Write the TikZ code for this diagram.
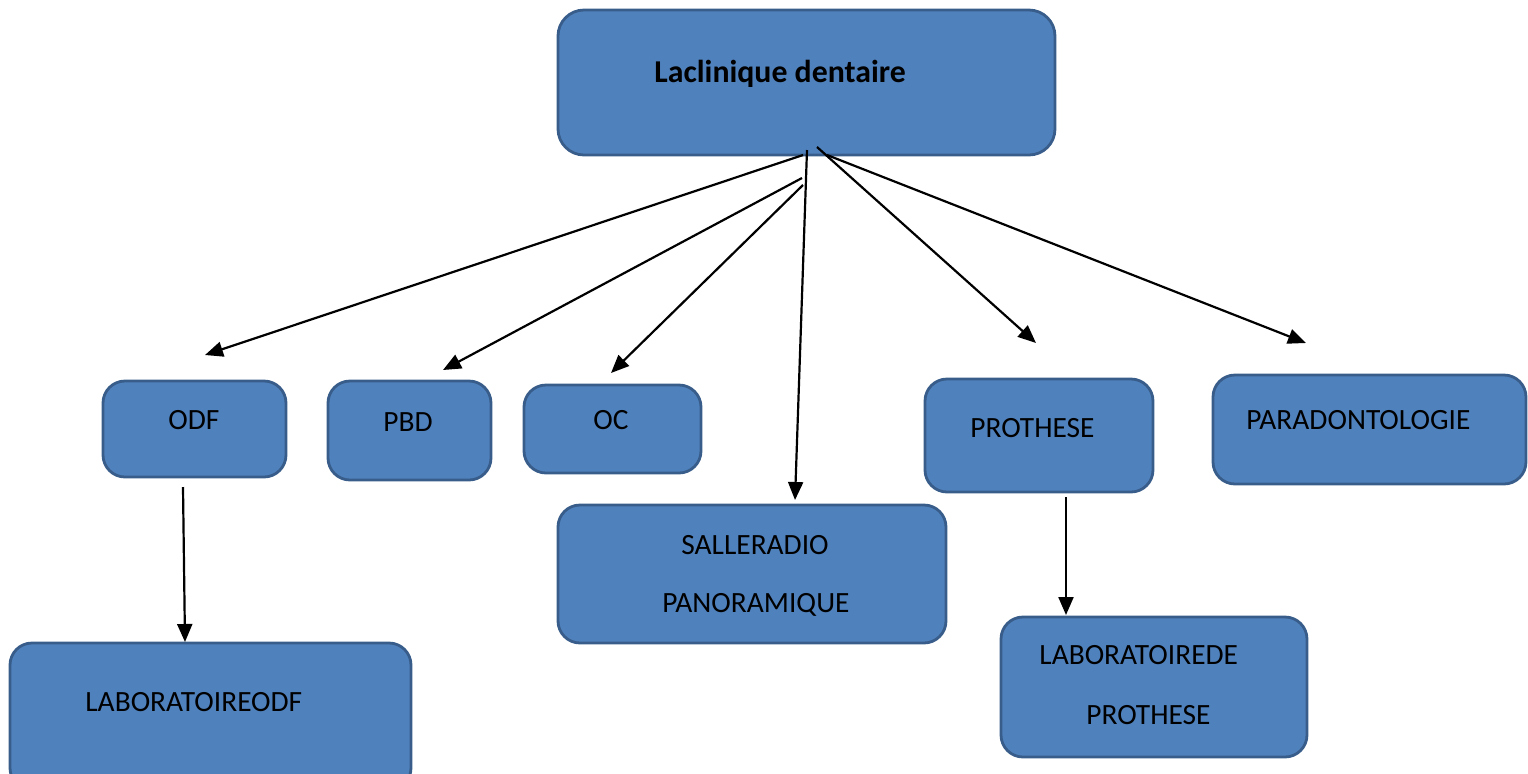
\documentclass[tikz,border=0pt]{standalone}
\usepackage{fontspec}
\setmainfont{Carlito}
\usetikzlibrary{arrows.meta}
\definecolor{boxfill}{HTML}{4F81BD}
\definecolor{boxline}{HTML}{385D8A}
\begin{document}
\begin{tikzpicture}[x=0.5pt,y=-0.5pt,
  box/.style={draw=boxline,fill=boxfill,line width=1.4pt,rounded corners=11pt,inner sep=0pt},
  lbl/.style={anchor=base west,inner sep=0pt,font=\fontsize{14.7}{17}\selectfont},
  arr/.style={line width=1.1pt,-{Triangle[length=9pt,width=7.5pt]}}]
\useasboundingbox (0,0) rectangle (1528,773);
% boxes
\node[box,minimum width=248.5pt,minimum height=72.5pt,rounded corners=13pt] (top) at (806.5,82.5) {};
\node[box,minimum width=91.5pt,minimum height=48pt] (odf) at (194.5,429) {};
\node[box,minimum width=81.5pt,minimum height=49.5pt] (pbd) at (409.5,430.5) {};
\node[box,minimum width=88.5pt,minimum height=44pt] (oc) at (612.5,429) {};
\node[box,minimum width=194pt,minimum height=69pt] (salle) at (752,574) {};
\node[box,minimum width=114pt,minimum height=56.5pt] (proth) at (1039,435.5) {};
\node[box,minimum width=156.5pt,minimum height=54.5pt] (para) at (1369.5,429.5) {};
\node[box,minimum width=200.5pt,minimum height=73.5pt] (labodf) at (210.5,716.5) {};
\node[box,minimum width=153pt,minimum height=70pt] (labpro) at (1154,687) {};
% texts
\node[lbl,font=\fontsize{15.9}{19}\selectfont\bfseries] (ttop) at (654,82) {Laclinique dentaire};
\node[lbl] (todf) at (168,429) {ODF};
\node[lbl] (tpbd) at (383,431) {PBD};
\node[lbl] (toc) at (593,429) {OC};
\node[lbl] (tsalle1) at (681,554) {SALLERADIO};
\node[lbl] (tsalle2) at (662,612) {PANORAMIQUE};
\node[lbl] (tproth) at (970,437) {PROTHESE};
\node[lbl] (tpara) at (1246,429) {PARADONTOLOGIE};
\node[lbl] (tlabodf) at (85,711) {LABORATOIREODF};
\node[lbl] (tlabpro1) at (1039,664) {LABORATOIREDE};
\node[lbl] (tlabpro2) at (1086,724) {PROTHESE};
% arrow end points
\coordinate (s1) at (803,155);  \coordinate (e1) at (205,355);
\coordinate (s2) at (802,178);  \coordinate (e2) at (443,370);
\coordinate (s3) at (803,185);  \coordinate (e3) at (611,373);
\coordinate (s4) at (807,150);  \coordinate (e4) at (795,500);
\coordinate (s5) at (817,147);  \coordinate (e5) at (1036,343);
\coordinate (s6) at (827,155);  \coordinate (e6) at (1306,343);
\coordinate (s7) at (183,487);  \coordinate (e7) at (185,642);
\coordinate (s8) at (1066,497); \coordinate (e8) at (1066,615);
\draw[arr] (s1) -- (e1);
\draw[arr] (s2) -- (e2);
\draw[arr] (s3) -- (e3);
\draw[arr] (s4) -- (e4);
\draw[arr] (s5) -- (e5);
\draw[arr] (s6) -- (e6);
\draw[arr] (s7) -- (e7);
\draw[arr] (s8) -- (e8);
\end{tikzpicture}
\end{document}
